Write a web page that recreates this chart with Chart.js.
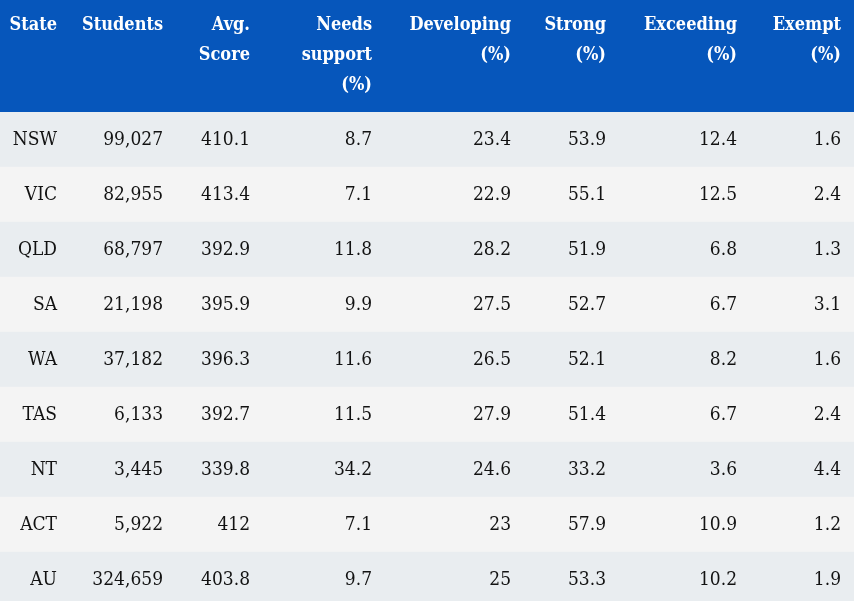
<!DOCTYPE html>
<html lang="en">
<head>
  <meta charset="UTF-8" />
  <title>NAPLAN results by state</title>
  <script src="https://cdn.jsdelivr.net/npm/chart.js@4.4.1/dist/chart.umd.min.js"></script>
  <style>
    html, body {
      margin: 0;
      padding: 0;
      overflow: hidden;
      background: #ffffff;
    }
    canvas {
      display: block;
    }
  </style>
</head>
<body>
  <canvas id="tableChart" width="854" height="607"></canvas>

  <script>
    // -------------
    // TABLE DATA
    // -------------
    const states = ["NSW", "VIC", "QLD", "SA", "WA", "TAS", "NT", "ACT", "AU"];
    const students = [99027, 82955, 68797, 21198, 37182, 6133, 3445, 5922, 324659];
    const avgScore = [410.1, 413.4, 392.9, 395.9, 396.3, 392.7, 339.8, 412, 403.8];
    const needsSupport = [8.7, 7.1, 11.8, 9.9, 11.6, 11.5, 34.2, 7.1, 9.7];
    const developing = [23.4, 22.9, 28.2, 27.5, 26.5, 27.9, 24.6, 23, 25];
    const strong = [53.9, 55.1, 51.9, 52.7, 52.1, 51.4, 33.2, 57.9, 53.3];
    const exceeding = [12.4, 12.5, 6.8, 6.7, 8.2, 6.7, 3.6, 10.9, 10.2];
    const exempt = [1.6, 2.4, 1.3, 3.1, 1.6, 2.4, 4.4, 1.2, 1.9];

    const headers = [
      ["State"],
      ["Students"],
      ["Avg.", "Score"],
      ["Needs", "support", "(%)"],
      ["Developing", "(%)"],
      ["Strong", "(%)"],
      ["Exceeding", "(%)"],
      ["Exempt", "(%)"],
    ];

    // -------------
    // LAYOUT
    // -------------
    const WIDTH = 854;
    const HEADER_H = 112;
    // right edge of each column, in x-scale units (= px)
    const colRight = [57, 163, 250, 372, 511, 606, 737, 841];
    const HEADER_BG = "#0656bb";
    const ROW_BG = ["#e9edf0", "#f4f4f4"];
    const TEXT = "#121212";
    const FONT_FAMILY = "'DejaVu Serif Condensed', 'DejaVu Serif', serif";

    function columnText(row) {
      return [
        states[row],
        students[row].toLocaleString("en-US"),
        String(avgScore[row]),
        String(needsSupport[row]),
        String(developing[row]),
        String(strong[row]),
        String(exceeding[row]),
        String(exempt[row]),
      ];
    }

    // header band + cell text, placed through the chart scales
    const tablePlugin = {
      id: "tableText",
      beforeDraw(chart) {
        const ctx = chart.ctx;
        const area = chart.chartArea;
        ctx.save();
        ctx.fillStyle = HEADER_BG;
        ctx.fillRect(0, 0, chart.width, area.top);
        ctx.restore();
      },
      afterDatasetsDraw(chart) {
        const ctx = chart.ctx;
        const xScale = chart.scales.x;
        const yScale = chart.scales.y;
        ctx.save();
        ctx.textAlign = "right";
        ctx.textBaseline = "middle";

        // header
        ctx.fillStyle = "#ffffff";
        ctx.font = "bold 18px " + FONT_FAMILY;
        headers.forEach((lines, c) => {
          const x = xScale.getPixelForValue(colRight[c]);
          lines.forEach((line, k) => {
            ctx.fillText(line, x, 25 + k * 30);
          });
        });

        // body
        ctx.fillStyle = TEXT;
        ctx.font = "19px " + FONT_FAMILY;
        states.forEach((_, r) => {
          const y = yScale.getPixelForValue(r) + 1;
          columnText(r).forEach((txt, c) => {
            ctx.fillText(txt, xScale.getPixelForValue(colRight[c]), y);
          });
        });
        ctx.restore();
      },
    };

    const ctx = document.getElementById("tableChart").getContext("2d");
    new Chart(ctx, {
      type: "bar",
      data: {
        labels: states,
        datasets: [
          {
            data: states.map(() => [0, WIDTH]),
            backgroundColor: states.map((_, i) => ROW_BG[i % 2]),
            borderWidth: 0,
            barPercentage: 1,
            categoryPercentage: 1,
          },
        ],
      },
      options: {
        indexAxis: "y",
        responsive: false,
        animation: false,
        devicePixelRatio: 1,
        layout: {
          padding: { top: HEADER_H, left: 0, right: 0, bottom: 0 },
        },
        plugins: {
          legend: { display: false },
          tooltip: { enabled: false },
        },
        scales: {
          x: { type: "linear", min: 0, max: WIDTH, display: false },
          y: { type: "category", display: false, offset: true },
        },
      },
      plugins: [tablePlugin],
    });
  </script>
</body>
</html>
